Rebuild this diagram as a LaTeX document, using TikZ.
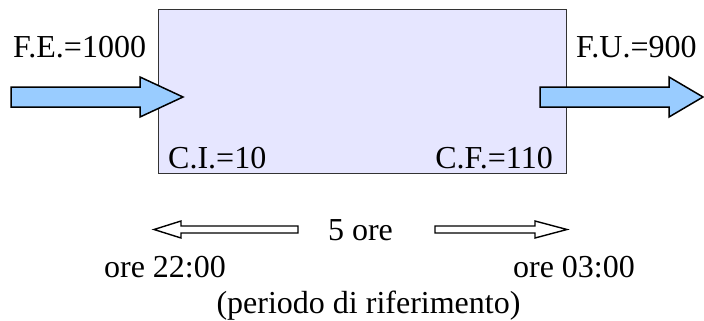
\documentclass[tikz,border=0pt]{standalone}
\usepackage{fontspec}
\setmainfont{Liberation Serif}
\usepackage{tikz}
\usetikzlibrary{positioning}
\definecolor{boxfill}{HTML}{E6E6FF}
\definecolor{boxline}{HTML}{333333}
\definecolor{flowblue}{HTML}{99CCFF}
\tikzset{
  procbox/.style={rectangle,draw=boxline,fill=boxfill,line width=1pt,
    minimum width=408pt,minimum height=163pt,inner sep=0pt},
  flowarrow/.style={draw=black,fill=flowblue,line width=1.5pt,line join=miter},
  timearrow/.style={draw=black,fill=white,line width=1.4pt,line join=miter},
  lbl/.style={font=\fontsize{32}{38}\selectfont,inner sep=0pt},
}

\begin{document}
\begin{tikzpicture}[x=1pt,y=-1pt]
  \useasboundingbox (0,0) rectangle (704,321);

  % the system box
  \node[procbox] (proc) at (362,91.5) {};

  % inflow / outflow arrows
  \draw[flowarrow] (11,87) -- (140,87) -- (140,77) -- (183,97)
    -- (140,117) -- (140,107) -- (11,107) -- cycle;
  \draw[flowarrow] (540,87) -- (669,87) -- (669,77) -- (703,97)
    -- (669,117) -- (669,107) -- (540,107) -- cycle;

  % flow labels
  \node[lbl,anchor=base west] (fe) at (13,58) {F.E.=1000};
  \node[lbl,anchor=base west] (fu) at (576,58) {F.U.=900};

  % stock labels inside the box
  \node[lbl,anchor=base west] (ci) at (168,168) {C.I.=10};
  \node[lbl,anchor=base east] (cf) at (553,168) {C.F.=110};

  % time span
  \node[lbl,anchor=base] (span) at (360.5,240) {5 ore};
  \draw[timearrow] (298,226) -- (181,226) -- (181,221) -- (154,229.5)
    -- (181,238) -- (181,233) -- (298,233) -- cycle;
  \draw[timearrow] (435,226) -- (535,226) -- (535,221) -- (567,229.5)
    -- (535,238) -- (535,233) -- (435,233) -- cycle;

  \node[lbl,anchor=base] (tstart) at (165,277) {ore 22:00};
  \node[lbl,anchor=base] (tend) at (574,277) {ore 03:00};
  \node[lbl,anchor=base] (period) at (368.5,313) {(periodo di riferimento)};

\end{tikzpicture}
\end{document}
